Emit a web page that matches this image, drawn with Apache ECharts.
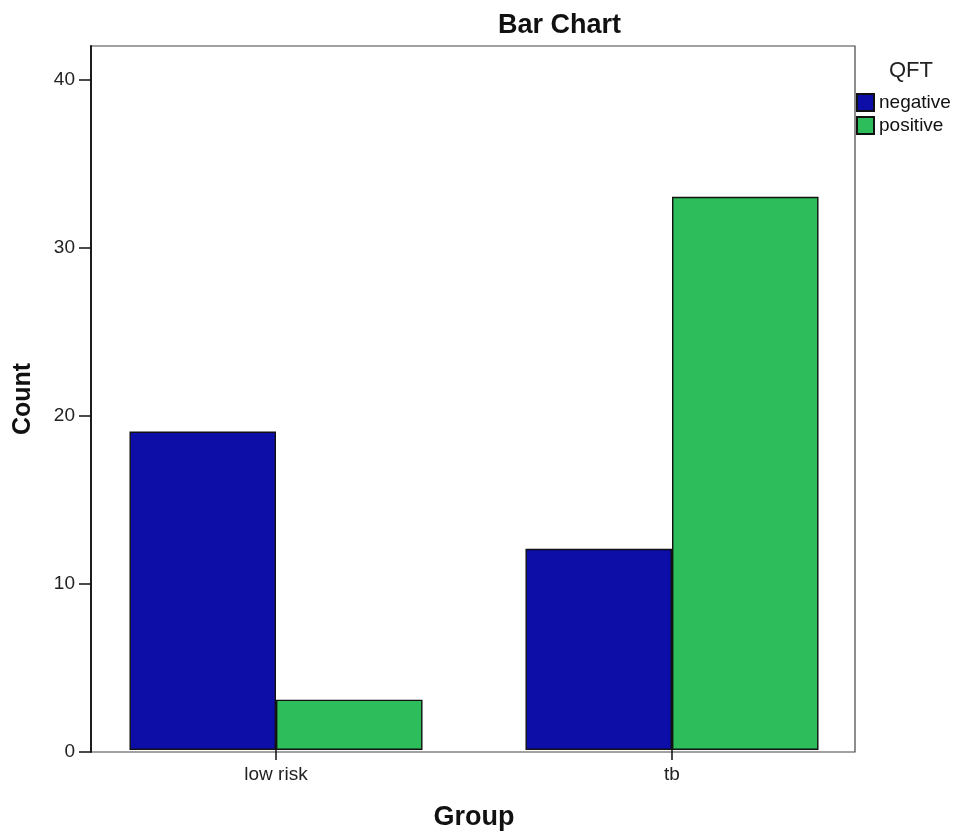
<!DOCTYPE html>
<html>
<head>
<meta charset="utf-8">
<script src="https://cdn.jsdelivr.net/npm/echarts@6/dist/echarts.min.js"></script>
<style>
html,body{margin:0;padding:0;background:#fff;}
#chart{width:961px;height:836px;}
</style>
</head>
<body>
<div id="chart"></div>
<script>
const categories = ['low risk', 'tb'];
const seriesNames = ['negative', 'positive'];
const negativeValues = [19, 12];
const positiveValues = [3, 33];
const yTicks = [0, 10, 20, 30, 40];

const FONT = '"Liberation Sans", Arial, sans-serif';
const chart = echarts.init(document.getElementById('chart'), null, {renderer: 'canvas'});
const option = {
  backgroundColor: '#ffffff',
  animation: false,
  textStyle: {fontFamily: FONT},
  title: [
    {text: 'Bar Chart', left: 493, top: 7,
     textStyle: {fontFamily: FONT, fontSize: 27, fontWeight: 'bold', color: '#111'}},
    {text: 'QFT', left: 884, top: 55,
     textStyle: {fontFamily: FONT, fontSize: 22, fontWeight: 'normal', color: '#222'}}
  ],
  legend: {
    orient: 'vertical', left: 851, top: 93, padding: [0, 0, 0, 5],
    itemWidth: 17, itemHeight: 17, itemGap: 4,
    data: seriesNames,
    textStyle: {fontFamily: FONT, fontSize: 19, color: '#111'},
    icon: 'rect'
  },
  grid: [
    {left: 78, right: 91, top: 46, bottom: 84, show: false},
    {left: 91, right: 106, top: 46, bottom: 84, show: true, borderColor: '#444', borderWidth: 1.2, backgroundColor: 'transparent'}
  ],
  xAxis: [
    {type: 'category', gridIndex: 0, data: categories,
     axisLine: {show: false},
     axisTick: {show: true, alignWithLabel: true, length: 10, lineStyle: {color: '#111', width: 1.5}},
     axisLabel: {fontFamily: FONT, fontSize: 19, color: '#222', margin: 15},
     name: 'Group', nameLocation: 'middle', nameGap: 54,
     nameTextStyle: {fontFamily: FONT, fontSize: 27, fontWeight: 'bold', color: '#111'}},
    {type: 'value', gridIndex: 1, show: false, min: 0, max: 1}
  ],
  yAxis: [
    {type: 'value', gridIndex: 0, min: 0, max: 42, show: false},
    {type: 'value', gridIndex: 1, min: 0, max: 42, interval: 10,
     axisLine: {show: true, lineStyle: {color: '#111', width: 1.8}},
     axisTick: {show: true, length: 12, customValues: yTicks, lineStyle: {color: '#111', width: 1.5}},
     axisLabel: {fontFamily: FONT, fontSize: 19, color: '#222', margin: 16, customValues: yTicks},
     splitLine: {show: false},
     name: 'Count', nameLocation: 'middle', nameGap: 55, nameRotate: 90,
     nameTextStyle: {fontFamily: FONT, fontSize: 25, fontWeight: 'bold', color: '#111'}}
  ],
  series: [
    {name: seriesNames[0], type: 'bar', xAxisIndex: 0, yAxisIndex: 0, data: negativeValues,
     barGap: '0%', barCategoryGap: '26%',
     itemStyle: {color: '#0d0da8', borderColor: '#111', borderWidth: 1.4}},
    {name: seriesNames[1], type: 'bar', xAxisIndex: 0, yAxisIndex: 0, data: positiveValues,
     barGap: '0%', barCategoryGap: '26%',
     itemStyle: {color: '#2dbd5a', borderColor: '#111', borderWidth: 1.4}}
  ]
};
chart.setOption(option);
</script>
</body>
</html>
